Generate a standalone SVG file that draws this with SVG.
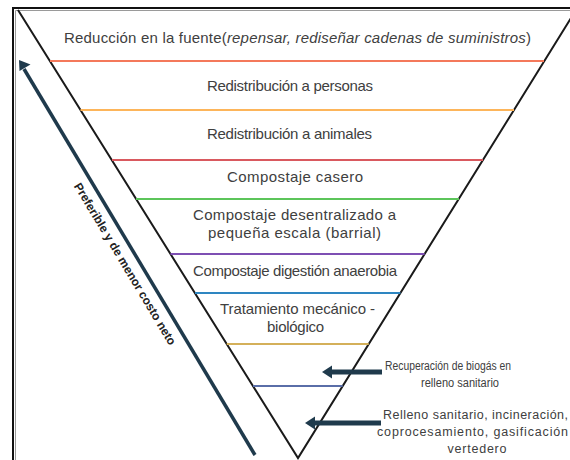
<svg xmlns="http://www.w3.org/2000/svg" width="570" height="460" viewBox="0 0 570 460">
<style>
.t{font-family:"Liberation Sans",Arial,sans-serif;font-size:15px;fill:#404040;text-anchor:middle}
.r{font-family:"Liberation Sans",Arial,sans-serif;font-size:12.5px;fill:#404040;text-anchor:middle}
.s{font-family:"Liberation Sans",Arial,sans-serif;font-size:12px;fill:#404040;text-anchor:middle}
.sep{stroke-width:2;fill:none}
.edge{stroke:#1a1a1a;stroke-width:2;fill:none}
.arr{stroke:#1F3A4C;fill:none}
.head{fill:#1F3A4C}
</style>
<rect width="570" height="460" fill="#fff"/>
<g id="frame">
<path d="M13 460 V8 H570" stroke="#111" stroke-width="2" fill="none"/>
<path d="M15.5 460 V10.5 H570" stroke="#9a9a9a" stroke-width="1" fill="none"/>
</g>
<g id="funnel">
<path class="edge" d="M18 10 L298 458 L576 10"/>
</g>
<g id="level1">
<text class="t" x="297.5" y="43" textLength="467" lengthAdjust="spacing">Reducción en la fuente(<tspan font-style="italic">repensar, rediseñar cadenas de suministros</tspan>)</text>
<line class="sep" stroke="#F4795B" x1="50" y1="61" x2="544" y2="61"/>
</g>
<g id="level2">
<text class="t" x="290" y="91" textLength="166" lengthAdjust="spacing">Redistribución a personas</text>
<line class="sep" stroke="#FDB55A" x1="80.5" y1="110" x2="514" y2="110"/>
</g>
<g id="level3">
<text class="t" x="289.5" y="139" textLength="165" lengthAdjust="spacing">Redistribución a animales</text>
<line class="sep" stroke="#D9595F" x1="112" y1="160" x2="483" y2="160"/>
</g>
<g id="level4">
<text class="t" x="295" y="182" textLength="136" lengthAdjust="spacing">Compostaje casero</text>
<line class="sep" stroke="#5CC55A" x1="136" y1="199" x2="459" y2="199"/>
</g>
<g id="level5">
<text class="t" x="294.5" y="220" textLength="203" lengthAdjust="spacing">Compostaje desentralizado a</text>
<text class="t" x="294.5" y="238" textLength="173" lengthAdjust="spacing">pequeña escala (barrial)</text>
<line class="sep" stroke="#7E4FB3" x1="170.5" y1="254" x2="424.6" y2="254"/>
</g>
<g id="level6">
<text class="t" x="295" y="276" textLength="204" lengthAdjust="spacing">Compostaje digestión anaerobia</text>
<line class="sep" stroke="#2E86C1" x1="195" y1="293" x2="400.4" y2="293"/>
</g>
<g id="level7">
<text class="t" x="297.5" y="314" textLength="155" lengthAdjust="spacing">Tratamiento mecánico -</text>
<text class="t" x="295.5" y="332" textLength="57" lengthAdjust="spacing">biológico</text>
<line class="sep" stroke="#D4B05A" x1="226.75" y1="344" x2="368.75" y2="344"/>
</g>
<g id="level8">
<line class="sep" stroke="#5A6EA8" x1="253" y1="386" x2="342.7" y2="386"/>
</g>
<g id="label-biogas">
<text class="s" x="448" y="370" textLength="126" lengthAdjust="spacingAndGlyphs">Recuperación de biogás en</text>
<text class="s" x="460" y="387" textLength="78" lengthAdjust="spacingAndGlyphs">relleno sanitario</text>
</g>
<g id="label-relleno">
<text class="r" x="475.5" y="419" textLength="185" lengthAdjust="spacing">Relleno sanitario, incineración,</text>
<text class="r" x="472.5" y="436" textLength="191" lengthAdjust="spacing">coprocesamiento, gasificación</text>
<text class="r" x="477" y="453" textLength="59" lengthAdjust="spacing">vertedero</text>
</g>
<g id="label-preferible">
<text transform="translate(125 264) rotate(59.1)" font-family="Liberation Sans,Arial,sans-serif" font-weight="bold" font-size="12" fill="#222" text-anchor="middle" y="4">Preferible y de menor costo neto</text>
</g>
<g id="connectors">
<line class="arr" stroke-width="3.5" x1="255" y1="455" x2="24" y2="69"/>
<polygon class="head" points="19,60 30.5,64.5 19.5,71"/>
<line class="arr" stroke-width="5" x1="382" y1="372" x2="330" y2="372"/>
<polygon class="head" points="322,372 332,365.5 332,378.5"/>
<line class="arr" stroke-width="5" x1="381" y1="423" x2="313" y2="423"/>
<polygon class="head" points="305,423 315,416.5 315,429.5"/>
</g>
</svg>
